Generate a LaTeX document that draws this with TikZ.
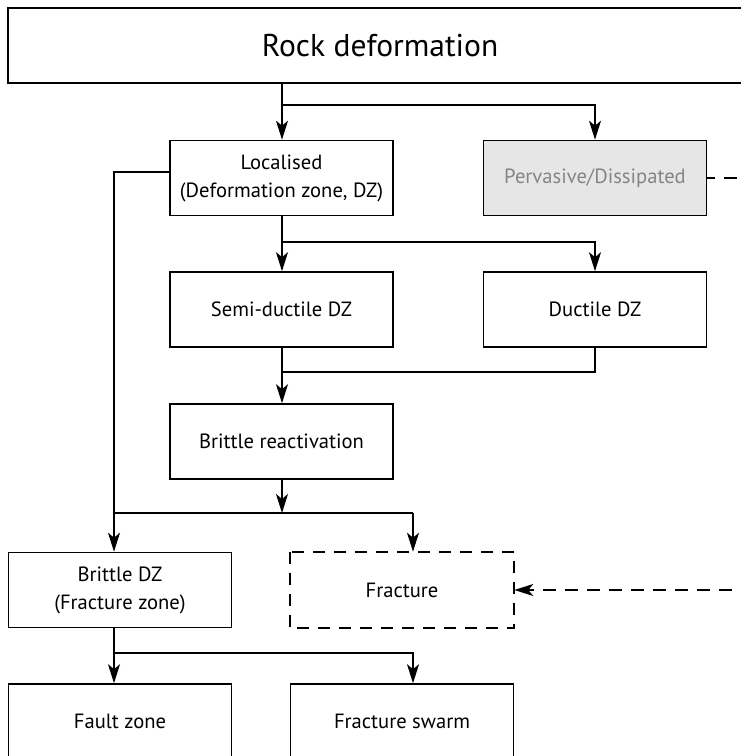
\documentclass[tikz,border=0pt]{standalone}
\usepackage{fontspec}
\setmainfont{PT Sans}
\usetikzlibrary{arrows.meta}
\definecolor{boxgrey}{HTML}{E6E6E6}
\definecolor{txtgrey}{HTML}{858585}
\begin{document}
\begin{tikzpicture}[x=1pt,y=-1pt,
  box/.style={draw, line width=1.6pt, minimum width=223pt, minimum height=75pt,
    align=center, inner sep=0pt, font=\fontsize{20.6}{28}\selectfont},
  link/.style={line width=1.6pt},
  tip/.style={-{Stealth[length=19pt,width=12pt,inset=5pt]}},
  arr/.style={link, tip},
  dashline/.style={line width=2pt, dash pattern=on 13pt off 9pt},
]
\useasboundingbox (0,0) rectangle (741,756);
\fill[white] (0,0) rectangle (741,756);
\clip (0,0) rectangle (741,756);

% boxes
\node[box, minimum width=744pt, font=\fontsize{31.5}{36}\selectfont] (top) at (380,45.5) {Rock deformation};
\node[box] (loc)  at (281.5,178) {Localised\\(Deformation zone, DZ)};
\node[box, fill=boxgrey, text=txtgrey] (perv) at (595,178) {Pervasive/Dissipated};
\node[box] (semi) at (281.5,309.5) {Semi-ductile DZ};
\node[box] (duct) at (595,309.5) {Ductile DZ};
\node[box] (brit) at (281.5,441.5) {Brittle reactivation};
\node[box] (bdz)  at (120,590) {Brittle DZ\\(Fracture zone)};
\node[box, draw=none] (frac) at (402,590) {Fracture};
\draw[dash pattern=on 12pt off 9pt, line width=1.7pt] (frac.north west) rectangle (frac.south east);
\node[box] (fault) at (120,721.5) {Fault zone};
\node[box] (swarm) at (402,721.5) {Fracture swarm};

% junction points
\coordinate (s1) at (282,105);
\coordinate (s2) at (282,242);
\coordinate (s3) at (282,372);
\coordinate (hL) at (0,172);
\coordinate (jL) at (114,513);
\coordinate (jR) at (413,513);
\coordinate (s4) at (114,653);
\coordinate (offR) at (775,400);

% rock deformation -> localised / pervasive
\draw[link] (top.south -| s1) -- (s1);
\draw[arr] (s1) -- (s1 |- loc.north);
\draw[arr] (s1) -| (perv.north);

% localised -> semi-ductile / ductile
\draw[link] (loc.south -| s2) -- (s2);
\draw[arr] (s2) -- (s2 |- semi.north);
\draw[arr] (s2) -| (duct.north);

% semi-ductile / ductile -> brittle reactivation
\draw[link] (duct.south) |- (s3);
\draw[arr] (semi.south -| s3) -- (s3 |- brit.north);

% localised -> brittle DZ, brittle reactivation -> fracture
\draw[link] (loc.west |- hL) -| (jL);
\draw[link] (jL) -- (jR);
\draw[arr] (brit.south -| s3) -- (s3 |- jL);
\draw[arr] (jL) -- (jL |- bdz.north);
\draw[arr] (jR) -- (jR |- frac.north);

% brittle DZ -> fault zone / fracture swarm
\draw[link] (bdz.south -| s4) -- (s4);
\draw[arr] (s4) -- (s4 |- fault.north);
\draw[arr] (s4) -| (jR |- swarm.north);

% pervasive -> fracture
\draw[dashline, dash phase=5pt, tip] (perv.east) -| (offR) |- (frac.east);
\end{tikzpicture}
\end{document}
